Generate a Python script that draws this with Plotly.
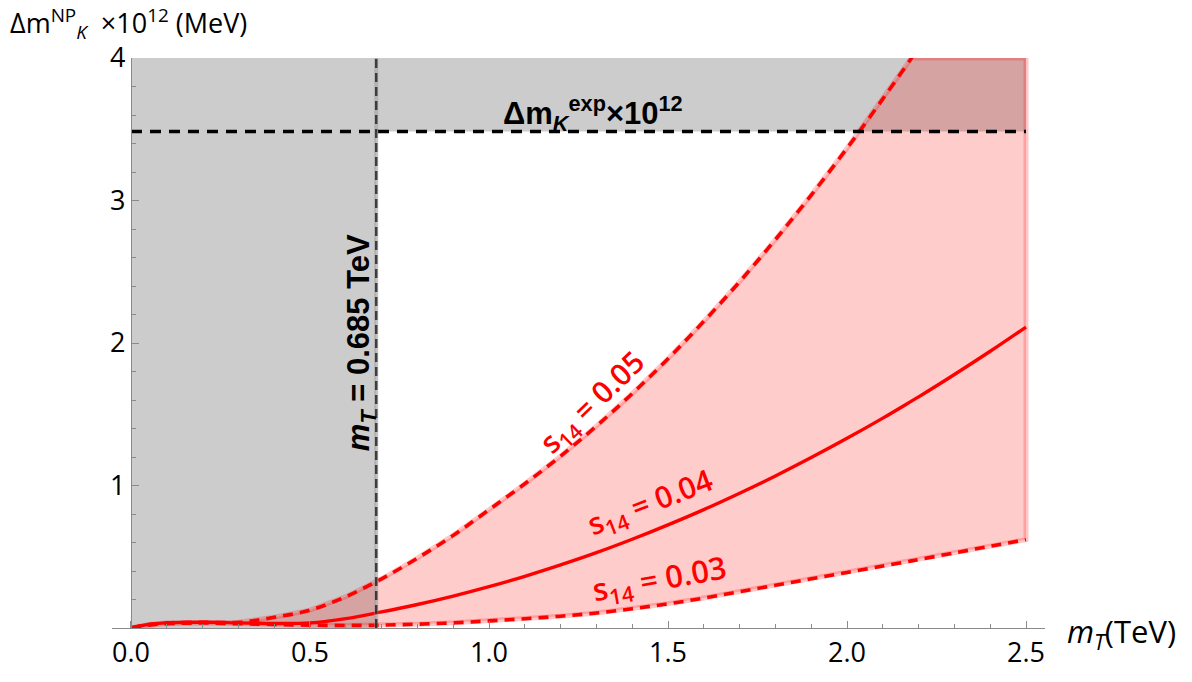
import numpy as np
import plotly.graph_objects as go

# ---- data ----
m_T = [0.0, 0.05, 0.1, 0.2, 0.3, 0.4, 0.5, 0.6, 0.7, 0.8, 0.9, 1.0, 1.1, 1.2, 1.3,
       1.4, 1.5, 1.6, 1.7, 1.8, 1.9, 2.0, 2.1, 2.18, 2.2, 2.3, 2.4, 2.5]
dm_s04 = [0.0, 0.025, 0.036, 0.040, 0.036, 0.032, 0.036, 0.066, 0.113, 0.165, 0.224, 0.290,
          0.363, 0.443, 0.529, 0.623, 0.724, 0.831, 0.946, 1.067, 1.196, 1.331, 1.473,
          1.592, 1.622, 1.779, 1.942, 2.112]
dm_s05 = [0.0, 0.025, 0.036, 0.040, 0.040, 0.075, 0.125, 0.220, 0.345, 0.490, 0.650, 0.830,
          1.012, 1.206, 1.417, 1.645, 1.890, 2.152, 2.430, 2.726, 3.038, 3.367, 3.713,
          4.000, 4.076, 4.456, 4.853, 5.266]
dm_s03 = [0.0, 0.020, 0.030, 0.035, 0.030, 0.025, 0.020, 0.018, 0.020, 0.027, 0.036, 0.050,
          0.065, 0.083, 0.105, 0.135, 0.170, 0.210, 0.255, 0.300, 0.345, 0.390, 0.435,
          0.471, 0.480, 0.527, 0.574, 0.620]
dm_exp = 3.484
mT_bound = 0.685
y_max = 4.0
x_ticks = [0.0, 0.5, 1.0, 1.5, 2.0, 2.5]
x_tick_labels = ["0.0", "0.5", "1.0", "1.5", "2.0", "2.5"]
y_ticks = [0, 1, 2, 3, 4]
y_tick_labels = ["", "1", "2", "3", "4"]

x = np.array(m_T)
up = np.minimum(np.array(dm_s05), y_max)
lo = np.array(dm_s03)

RED = "#FF0000"
fig = go.Figure()

# red band
fig.add_trace(go.Scatter(
    x=np.concatenate([x, x[::-1]]), y=np.concatenate([up, lo[::-1]]),
    fill="toself", fillcolor="rgba(255,0,0,0.2)", mode="lines",
    line=dict(color="rgba(255,0,0,0.22)", width=5), hoverinfo="skip", showlegend=False))

fig.add_trace(go.Scatter(x=m_T, y=dm_s04, mode="lines", line=dict(color=RED, width=3.4, shape="spline"),
                         showlegend=False))
fig.add_trace(go.Scatter(x=m_T, y=dm_s03, mode="lines",
                         line=dict(color=RED, width=3.6, dash="10px,7px", shape="spline"), showlegend=False))
fig.add_trace(go.Scatter(x=m_T, y=dm_s05, mode="lines",
                         line=dict(color=RED, width=3.6, dash="10px,7px", shape="spline"), showlegend=False))

# experimental and bound lines
fig.add_trace(go.Scatter(x=[0, 2.5], y=[dm_exp, dm_exp], mode="lines",
                         line=dict(color="black", width=3.5, dash="11px,8px"), showlegend=False))
fig.add_trace(go.Scatter(x=[mT_bound, mT_bound], y=[0, y_max], mode="lines",
                         line=dict(color="rgba(160,160,160,0.6)", width=4), showlegend=False))
fig.add_trace(go.Scatter(x=[mT_bound, mT_bound], y=[0, y_max], mode="lines",
                         line=dict(color="rgba(30,30,30,0.8)", width=2.5, dash="9px,5px"), showlegend=False))

# grey excluded regions
fig.add_shape(type="rect", xref="x", yref="y", x0=0, x1=mT_bound, y0=0, y1=y_max,
              fillcolor="#CCCCCC", line=dict(width=0), layer="below")
fig.add_shape(type="rect", xref="x", yref="y", x0=mT_bound, x1=2.5, y0=dm_exp, y1=y_max,
              fillcolor="#CCCCCC", line=dict(width=0), layer="below")

fig.add_annotation(x=1.29, y=3.61, xref="x", yref="y", showarrow=False,
                   text="<b>Δm<sub><i>K</i></sub><sup>exp</sup>×10<sup>12</sup></b>",
                   font=dict(family="Liberation Sans", size=31, color="black"))
fig.add_annotation(x=0.643, y=2.0, xref="x", yref="y", showarrow=False, textangle=-90,
                   text="<b><i>m<sub>T</sub></i> = 0.685 TeV</b>",
                   font=dict(family="Liberation Sans", size=31, color="black"))

s_font = dict(family="Open Sans", size=30, color=RED, weight=600)
fig.add_annotation(x=1.288, y=1.58, xref="x", yref="y", showarrow=False, textangle=-44,
                   text="s<sub>14</sub> = 0.05", font=s_font)
fig.add_annotation(x=1.45, y=0.875, xref="x", yref="y", showarrow=False, textangle=-21,
                   text="s<sub>14</sub> = 0.04", font=s_font)
fig.add_annotation(x=1.475, y=0.335, xref="x", yref="y", showarrow=False, textangle=-10,
                   text="s<sub>14</sub> = 0.03", font=dict(family="Open Sans", size=31, color=RED, weight=600))

# axis titles
fig.add_annotation(x=-0.1115, y=1.06, xref="paper", yref="paper", xanchor="left", yanchor="middle",
                   showarrow=False, text="Δm<sup>NP</sup><sub><i>K</i></sub>  ×10<sup>12</sup> (MeV)",
                   font=dict(family="Open Sans", size=27, color="black"))
fig.add_annotation(x=1.021, y=-0.008, xref="paper", yref="paper", xanchor="left", yanchor="middle",
                   showarrow=False, text="<i>m<sub>T</sub></i>(TeV)",
                   font=dict(family="Open Sans", size=31, color="black"))

axis_col = "#8a8a8a"
fig.update_layout(
    width=1192, height=682, margin=dict(l=112, r=147, t=58, b=49),
    paper_bgcolor="white", plot_bgcolor="white",
    font=dict(family="Open Sans", size=27, color="black"),
    xaxis=dict(range=[-0.053, 2.553], showgrid=False, zeroline=False, showline=True,
               linecolor=axis_col, linewidth=1.2, ticks="inside", ticklen=7, tickcolor=axis_col,
               tickmode="array", tickvals=x_ticks, ticktext=x_tick_labels,
               minor=dict(ticks="inside", ticklen=4, tickcolor=axis_col, dtick=0.1, tick0=0)),
    yaxis=dict(range=[0, y_max], anchor="free", position=0.0203, showgrid=False, zeroline=False,
               showline=True, linecolor=axis_col, linewidth=1.2, ticks="inside", ticklen=7,
               tickcolor=axis_col, tickmode="array", tickvals=y_ticks, ticktext=y_tick_labels,
               minor=dict(ticks="inside", ticklen=4, tickcolor=axis_col, dtick=0.2, tick0=0)),
)

fig.write_html("out.html")
